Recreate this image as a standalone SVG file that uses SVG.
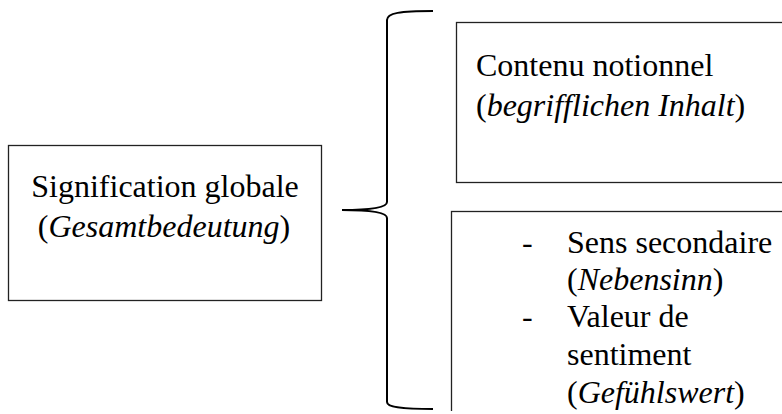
<svg xmlns="http://www.w3.org/2000/svg" width="782" height="414" viewBox="0 0 782 414">
<style>
.box{fill:#fff;stroke:#222;stroke-width:1.3}
.t{font-family:"Liberation Serif","Times New Roman",serif;font-size:32px;fill:#000}
.i{font-family:"Liberation Serif","Times New Roman",serif;font-style:italic}
.brace{fill:none;stroke:#000;stroke-width:2}
</style>
<defs>
<clipPath id="cut"><rect x="0" y="0" width="782" height="411"/></clipPath>
</defs>
<rect width="782" height="414" fill="#fff"/>
<g id="connectors">
<path class="brace" d="M433,11 C400,11 387,13 387,20 L387,202 C387,207 375,210 342,210 C375,210 387,213 387,218 L387,402 C387,407 400,409 433,409"/>
</g>
<g id="global">
<rect class="box" x="8.5" y="145.5" width="313" height="155"/>
<text class="t" x="165" y="197" text-anchor="middle">Signification globale</text>
<text class="t" x="164" y="237" text-anchor="middle">(<tspan class="i">Gesamtbedeutung</tspan>)</text>
</g>
<g id="notionnel">
<rect class="box" x="456.5" y="22.5" width="340" height="160"/>
<text class="t" x="476" y="76">Contenu notionnel</text>
<text class="t" x="476" y="116">(<tspan class="i">begrifflichen Inhalt</tspan>)</text>
</g>
<g id="secondaire" clip-path="url(#cut)">
<rect class="box" x="451.5" y="211.5" width="345" height="220"/>
<text class="t" x="522" y="253">-</text>
<text class="t" x="567" y="253">Sens secondaire</text>
<text class="t" x="567" y="290">(<tspan class="i">Nebensinn</tspan>)</text>
<text class="t" x="522" y="327">-</text>
<text class="t" x="567" y="327">Valeur de</text>
<text class="t" x="567" y="365">sentiment</text>
<text class="t" x="567" y="403">(<tspan class="i">Gefühlswert</tspan>)</text>
</g>
</svg>
